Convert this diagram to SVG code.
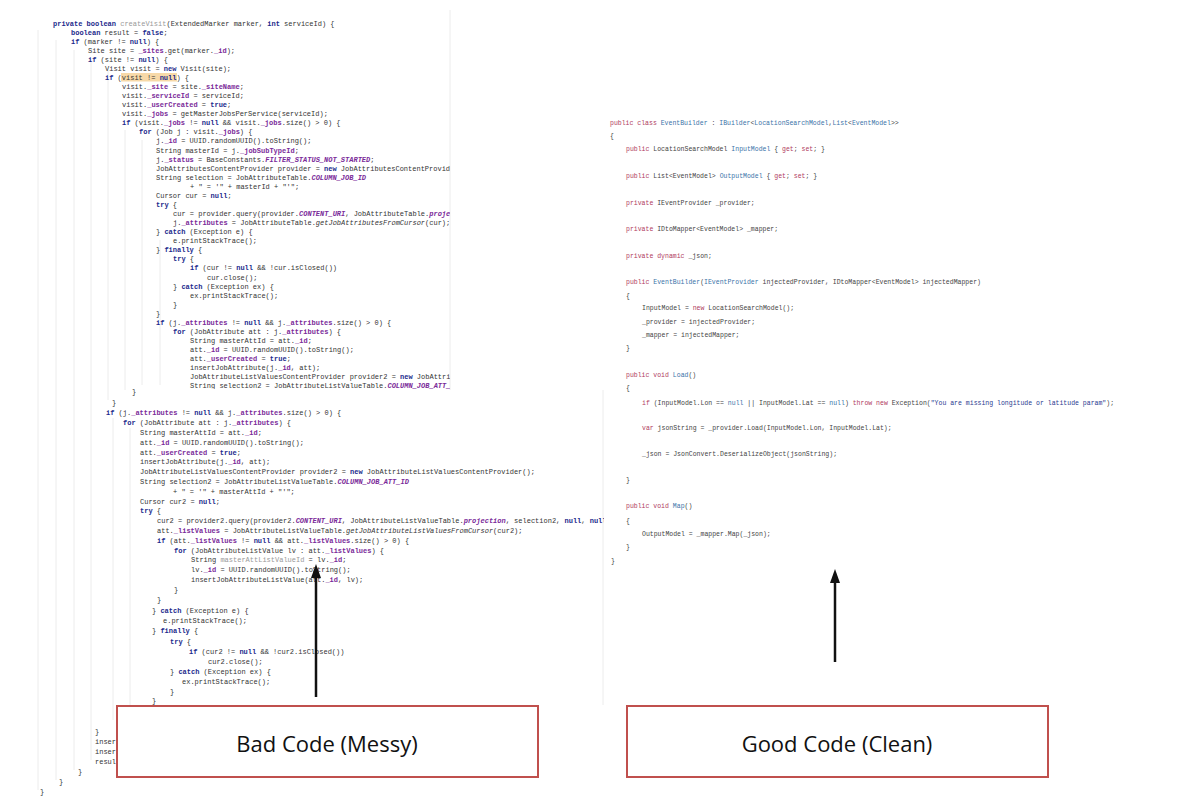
<svg xmlns="http://www.w3.org/2000/svg" width="1200" height="806" viewBox="0 0 1200 806">
<style>
.m{font-family:"Liberation Mono","DejaVu Sans Mono",monospace;font-size:7px;fill:#333}
.r{font-family:"Liberation Mono","DejaVu Sans Mono",monospace;font-size:6.5px;fill:#444}
.k{fill:#1c2a8c;font-weight:bold}
.f{fill:#7a2a99;font-weight:bold}
.c{fill:#7a2a99;font-style:italic;font-weight:bold}
.g{fill:#999}
.rk{fill:#b03a5e}
.rt{fill:#3a73a8}
.rs{fill:#2a3a90}
.gl{stroke:#ececec;stroke-width:1}
.box{fill:#fff;stroke:#c0504d;stroke-width:2}
.lbl{font-family:"Open Sans","Liberation Sans",sans-serif;font-size:22px;fill:#111;text-anchor:middle}
.ar{stroke:#111;stroke-width:2.5;fill:none}
.ah{fill:#111}
</style>
<defs>
<clipPath id="topc"><rect x="30" y="10" width="420" height="379"/></clipPath>
<clipPath id="botc"><rect x="30" y="389" width="574" height="412"/></clipPath>
</defs>
<rect width="1200" height="806" fill="#fff"/>
<g id="bad-code">
<g class="gl">
<line x1="38" y1="30" x2="38" y2="790"/><line x1="56" y1="40" x2="56" y2="780"/><line x1="74" y1="50" x2="74" y2="770"/><line x1="91" y1="60" x2="91" y2="760"/><line x1="108" y1="70" x2="108" y2="400"/><line x1="125" y1="130" x2="125" y2="390"/><line x1="142" y1="140" x2="142" y2="385"/><line x1="160" y1="240" x2="160" y2="385"/><line x1="113" y1="418" x2="113" y2="720"/><line x1="130" y1="428" x2="130" y2="720"/><line x1="450" y1="10" x2="450" y2="390"/><line x1="603" y1="390" x2="603" y2="705"/>
</g>
<g clip-path="url(#topc)" class="m">
<rect x="121" y="73" width="56" height="8.5" fill="#f7d9a8"/>
<text x="53" y="25.5"><tspan class="k">private boolean</tspan> <tspan class="g">createVisit</tspan>(ExtendedMarker marker, <tspan class="k">int</tspan> serviceId) {</text>
<text x="71" y="34.5"><tspan class="k">boolean</tspan> result = <tspan class="k">false</tspan>;</text>
<text x="71" y="43.6"><tspan class="k">if</tspan> (marker != <tspan class="k">null</tspan>) {</text>
<text x="88" y="52.7">Site site = <tspan class="f">_sites</tspan>.get(marker.<tspan class="f">_id</tspan>);</text>
<text x="88" y="61.8"><tspan class="k">if</tspan> (site != <tspan class="k">null</tspan>) {</text>
<text x="105" y="70.8">Visit visit = <tspan class="k">new</tspan> Visit(site);</text>
<text x="105" y="79.9"><tspan class="k">if</tspan> (visit != <tspan class="k">null</tspan>) {</text>
<text x="122" y="89">visit.<tspan class="f">_site</tspan> = site.<tspan class="f">_siteName</tspan>;</text>
<text x="122" y="98">visit.<tspan class="f">_serviceId</tspan> = serviceId;</text>
<text x="122" y="107">visit.<tspan class="f">_userCreated</tspan> = <tspan class="k">true</tspan>;</text>
<text x="122" y="116.2">visit.<tspan class="f">_jobs</tspan> = getMasterJobsPerService(serviceId);</text>
<text x="122" y="125.3"><tspan class="k">if</tspan> (visit.<tspan class="f">_jobs</tspan> != <tspan class="k">null</tspan> &amp;&amp; visit.<tspan class="f">_jobs</tspan>.size() &gt; 0) {</text>
<text x="139" y="134.3"><tspan class="k">for</tspan> (Job j : visit.<tspan class="f">_jobs</tspan>) {</text>
<text x="156" y="143.4">j.<tspan class="f">_id</tspan> = UUID.randomUUID().toString();</text>
<text x="156" y="152.5">String masterId = j.<tspan class="f">_jobSubTypeId</tspan>;</text>
<text x="156" y="161.6">j.<tspan class="f">_status</tspan> = BaseConstants.<tspan class="c">FILTER_STATUS_NOT_STARTED</tspan>;</text>
<text x="156" y="170.6">JobAttributesContentProvider provider = <tspan class="k">new</tspan> JobAttributesContentProvider();</text>
<text x="156" y="179.7">String selection = JobAttributeTable.<tspan class="c">COLUMN_JOB_ID</tspan></text>
<text x="190" y="188.8">+ " = '" + masterId + "'";</text>
<text x="156" y="197.8">Cursor cur = <tspan class="k">null</tspan>;</text>
<text x="156" y="206.9"><tspan class="k">try</tspan> {</text>
<text x="173" y="216">cur = provider.query(provider.<tspan class="c">CONTENT_URI</tspan>, JobAttributeTable.<tspan class="c">projection</tspan>, selection, <tspan class="k">null</tspan>, <tspan class="k">null</tspan>);</text>
<text x="173" y="225">j.<tspan class="f">_attributes</tspan> = JobAttributeTable.<tspan font-style="italic">getJobAttributesFromCursor</tspan>(cur);</text>
<text x="156" y="234">} <tspan class="k">catch</tspan> (Exception e) {</text>
<text x="173" y="243.2">e.printStackTrace();</text>
<text x="156" y="252.3">} <tspan class="k">finally</tspan> {</text>
<text x="173" y="261.3"><tspan class="k">try</tspan> {</text>
<text x="190" y="270.4"><tspan class="k">if</tspan> (cur != <tspan class="k">null</tspan> &amp;&amp; !cur.isClosed())</text>
<text x="207" y="279.5">cur.close();</text>
<text x="173" y="288.5">} <tspan class="k">catch</tspan> (Exception ex) {</text>
<text x="190" y="297.6">ex.printStackTrace();</text>
<text x="173" y="306.7">}</text>
<text x="156" y="315.7">}</text>
<text x="156" y="324.8"><tspan class="k">if</tspan> (j.<tspan class="f">_attributes</tspan> != <tspan class="k">null</tspan> &amp;&amp; j.<tspan class="f">_attributes</tspan>.size() &gt; 0) {</text>
<text x="173" y="333.9"><tspan class="k">for</tspan> (JobAttribute att : j.<tspan class="f">_attributes</tspan>) {</text>
<text x="190" y="343">String masterAttId = att.<tspan class="f">_id</tspan>;</text>
<text x="190" y="352">att.<tspan class="f">_id</tspan> = UUID.randomUUID().toString();</text>
<text x="190" y="361">att.<tspan class="f">_userCreated</tspan> = <tspan class="k">true</tspan>;</text>
<text x="190" y="370.2">insertJobAttribute(j.<tspan class="f">_id</tspan>, att);</text>
<text x="190" y="379.3">JobAttributeListValuesContentProvider provider2 = <tspan class="k">new</tspan> JobAttributeListValuesContentProvider();</text>
<text x="190" y="388.3">String selection2 = JobAttributeListValueTable.<tspan class="c">COLUMN_JOB_ATT_ID</tspan></text>
</g>
<g clip-path="url(#botc)" class="m">
<text x="132" y="394">}</text>
<text x="112" y="405">}</text>
<text x="106" y="415"><tspan class="k">if</tspan> (j.<tspan class="f">_attributes</tspan> != <tspan class="k">null</tspan> &amp;&amp; j.<tspan class="f">_attributes</tspan>.size() &gt; 0) {</text>
<text x="123" y="425"><tspan class="k">for</tspan> (JobAttribute att : j.<tspan class="f">_attributes</tspan>) {</text>
<text x="140" y="435">String masterAttId = att.<tspan class="f">_id</tspan>;</text>
<text x="140" y="444.5">att.<tspan class="f">_id</tspan> = UUID.randomUUID().toString();</text>
<text x="140" y="454.5">att.<tspan class="f">_userCreated</tspan> = <tspan class="k">true</tspan>;</text>
<text x="140" y="464">insertJobAttribute(j.<tspan class="f">_id</tspan>, att);</text>
<text x="140" y="474">JobAttributeListValuesContentProvider provider2 = <tspan class="k">new</tspan> JobAttributeListValuesContentProvider();</text>
<text x="140" y="484">String selection2 = JobAttributeListValueTable.<tspan class="c">COLUMN_JOB_ATT_ID</tspan></text>
<text x="173" y="493.5">+ " = '" + masterAttId + "'";</text>
<text x="140" y="503.5">Cursor cur2 = <tspan class="k">null</tspan>;</text>
<text x="140" y="513"><tspan class="k">try</tspan> {</text>
<text x="157" y="523">cur2 = provider2.query(provider2.<tspan class="c">CONTENT_URI</tspan>, JobAttributeListValueTable.<tspan class="c">projection</tspan>, selection2, <tspan class="k">null</tspan>, <tspan class="k">null</tspan>);</text>
<text x="157" y="533">att.<tspan class="f">_listValues</tspan> = JobAttributeListValueTable.<tspan font-style="italic">getJobAttributeListValuesFromCursor</tspan>(cur2);</text>
<text x="157" y="542.5"><tspan class="k">if</tspan> (att.<tspan class="f">_listValues</tspan> != <tspan class="k">null</tspan> &amp;&amp; att.<tspan class="f">_listValues</tspan>.size() &gt; 0) {</text>
<text x="174" y="552.5"><tspan class="k">for</tspan> (JobAttributeListValue lv : att.<tspan class="f">_listValues</tspan>) {</text>
<text x="191" y="562">String <tspan class="g">masterAttListValueId</tspan> = lv.<tspan class="f">_id</tspan>;</text>
<text x="191" y="572">lv.<tspan class="f">_id</tspan> = UUID.randomUUID().toString();</text>
<text x="191" y="582">insertJobAttributeListValue(att.<tspan class="f">_id</tspan>, lv);</text>
<text x="174" y="591.5">}</text>
<text x="157" y="602">}</text>
<text x="152" y="613">} <tspan class="k">catch</tspan> (Exception e) {</text>
<text x="163" y="623">e.printStackTrace();</text>
<text x="152" y="633">} <tspan class="k">finally</tspan> {</text>
<text x="170" y="644"><tspan class="k">try</tspan> {</text>
<text x="189" y="654"><tspan class="k">if</tspan> (cur2 != <tspan class="k">null</tspan> &amp;&amp; !cur2.isClosed())</text>
<text x="208" y="664">cur2.close();</text>
<text x="170" y="674">} <tspan class="k">catch</tspan> (Exception ex) {</text>
<text x="182" y="684">ex.printStackTrace();</text>
<text x="170" y="694">}</text>
<text x="152" y="703">}</text>
<text x="95" y="734">}</text>
<text x="95" y="744">insertJobAttribute(j._id, att);</text>
<text x="95" y="754">insertJobAttribute(j._id, att);</text>
<text x="95" y="764">result = true;</text>
<text x="78" y="774">}</text>
<text x="59" y="784">}</text>
<text x="40" y="794">}</text>
</g>
</g>
<g id="good-code" class="r">
<text x="610" y="125"><tspan class="rk">public class</tspan> <tspan class="rt">EventBuilder</tspan> : <tspan class="rt">IBuilder</tspan>&lt;<tspan class="rt">LocationSearchModel</tspan>,<tspan class="rt">List</tspan>&lt;<tspan class="rt">EventModel</tspan>&gt;&gt;</text>
<text x="610" y="138">{</text>
<text x="626" y="151"><tspan class="rk">public</tspan> LocationSearchModel <tspan class="rt">InputModel</tspan> { <tspan class="rk">get</tspan>; <tspan class="rk">set</tspan>; }</text>
<text x="626" y="178"><tspan class="rk">public</tspan> List&lt;EventModel&gt; <tspan class="rt">OutputModel</tspan> { <tspan class="rk">get</tspan>; <tspan class="rk">set</tspan>; }</text>
<text x="626" y="205"><tspan class="rk">private</tspan> IEventProvider _provider;</text>
<text x="626" y="231"><tspan class="rk">private</tspan> IDtoMapper&lt;EventModel&gt; _mapper;</text>
<text x="626" y="258"><tspan class="rk">private</tspan> <tspan class="rk">dynamic</tspan> _json;</text>
<text x="626" y="284"><tspan class="rk">public</tspan> <tspan class="rt">EventBuilder</tspan>(<tspan class="rt">IEventProvider</tspan> injectedProvider, IDtoMapper&lt;EventModel&gt; injectedMapper)</text>
<text x="626" y="298">{</text>
<text x="642" y="310">InputModel = <tspan class="rk">new</tspan> LocationSearchModel();</text>
<text x="642" y="324">_provider = injectedProvider;</text>
<text x="642" y="337">_mapper = injectedMapper;</text>
<text x="626" y="350">}</text>
<text x="626" y="377"><tspan class="rk">public</tspan> <tspan class="rk">void</tspan> <tspan class="rt">Load</tspan>()</text>
<text x="626" y="390">{</text>
<text x="642" y="405"><tspan class="rk">if</tspan> (InputModel.Lon == <tspan class="rt">null</tspan> || InputModel.Lat == <tspan class="rt">null</tspan>) <tspan class="rk">throw new</tspan> Exception(<tspan class="rs">"You are missing longitude or latitude param"</tspan>);</text>
<text x="642" y="430"><tspan class="rk">var</tspan> jsonString = _provider.Load(InputModel.Lon, InputModel.Lat);</text>
<text x="642" y="456">_json = JsonConvert.DeserializeObject(jsonString);</text>
<text x="626" y="482">}</text>
<text x="626" y="508"><tspan class="rk">public</tspan> <tspan class="rk">void</tspan> <tspan class="rt">Map</tspan>()</text>
<text x="626" y="523">{</text>
<text x="642" y="536">OutputModel = _mapper.Map(_json);</text>
<text x="626" y="549">}</text>
<text x="611" y="563">}</text>
</g>
<g id="connectors">
<line class="ar" x1="316" y1="697" x2="316" y2="575"/>
<polygon class="ah" points="316,564 311,578 321,578"/>
<line class="ar" x1="835" y1="662" x2="835" y2="580"/>
<polygon class="ah" points="835,569 830,583 840,583"/>
</g>
<g id="bad-label">
<rect class="box" x="117" y="706" width="421" height="71"/>
<text class="lbl" x="327" y="752">Bad Code (Messy)</text>
</g>
<g id="good-label">
<rect class="box" x="627" y="706" width="421" height="71"/>
<text class="lbl" x="837" y="752">Good Code (Clean)</text>
</g>
</svg>
